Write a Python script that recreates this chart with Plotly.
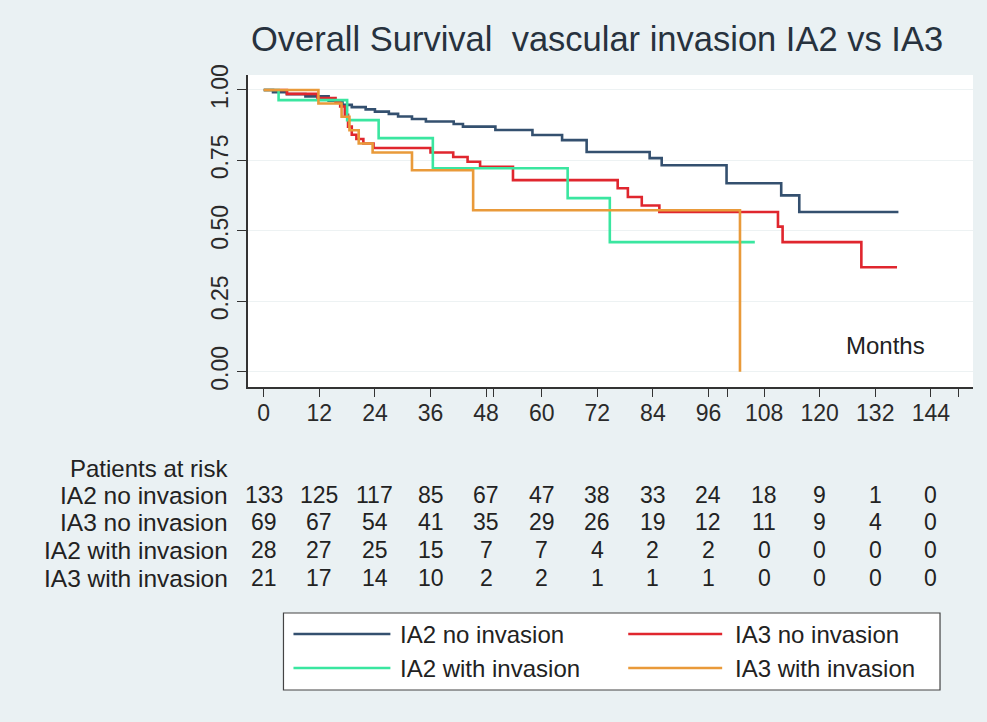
import plotly.graph_objects as go

# Kaplan-Meier step estimates (months, survival probability)
ia2_no_t = [0, 2, 5, 9, 14, 17, 19, 22, 24, 27, 29, 32, 35, 41, 43, 50, 58, 64.4, 69.7, 83.3, 85.9, 99.9, 111.7, 115.6, 137]
ia2_no_s = [1.0, 0.992, 0.985, 0.977, 0.962, 0.947, 0.939, 0.931, 0.923, 0.915, 0.906, 0.897, 0.888, 0.879, 0.870, 0.858, 0.840, 0.822, 0.780, 0.758, 0.733, 0.669, 0.626, 0.567, 0.567]

ia3_no_t = [0, 5, 11.6, 15.5, 16.5, 17.5, 18.2, 19, 20, 21.5, 23.7, 36, 40.9, 44, 46.7, 53.8, 76.4, 78.6, 81.6, 85.4, 111, 112, 129, 136.7]
ia3_no_s = [1.0, 0.986, 0.971, 0.956, 0.941, 0.912, 0.870, 0.841, 0.826, 0.810, 0.794, 0.778, 0.762, 0.745, 0.727, 0.680, 0.651, 0.620, 0.590, 0.567, 0.515, 0.460, 0.371, 0.371]

ia2_with_t = [0, 3.2, 18, 24.8, 36.5, 65.6, 74.7, 106]
ia2_with_s = [1.0, 0.964, 0.893, 0.829, 0.722, 0.616, 0.460, 0.460]

ia3_with_t = [0, 11.8, 16.8, 18.5, 20.5, 23.5, 32, 45.2, 102.8]
ia3_with_s = [1.0, 0.952, 0.905, 0.857, 0.810, 0.778, 0.715, 0.573, 0.0]

# Numbers at risk
risk_months = [0, 12, 24, 36, 48, 60, 72, 84, 96, 108, 120, 132, 144]
risk_ia2_no = [133, 125, 117, 85, 67, 47, 38, 33, 24, 18, 9, 1, 0]
risk_ia3_no = [69, 67, 54, 41, 35, 29, 26, 19, 12, 11, 9, 4, 0]
risk_ia2_with = [28, 27, 25, 15, 7, 7, 4, 2, 2, 0, 0, 0, 0]
risk_ia3_with = [21, 17, 14, 10, 2, 2, 1, 1, 1, 0, 0, 0, 0]

group_names = ["IA2 no invasion", "IA3 no invasion", "IA2 with invasion", "IA3 with invasion"]
group_colors = ["#34506f", "#e0262e", "#3ae6a0", "#e99a3a"]

extra_ticks = [49.6, 100, 150]
y_ticks = [0, 0.25, 0.5, 0.75, 1.0]

W, H = 987, 722
L, R, T, B = 247.5, 973, 75, 387
BG = "#eaf1f3"
FONT = "Liberation Sans, Arial, sans-serif"


def px(xp):
    return (xp - L) / (R - L)


def py(yp):
    return (B - yp) / (B - T)


curves = [
    (ia2_no_t, ia2_no_s),
    (ia3_no_t, ia3_no_s),
    (ia2_with_t, ia2_with_s),
    (ia3_with_t, ia3_with_s),
]

fig = go.Figure()
for (t, s), name, col in zip(curves, group_names, group_colors):
    fig.add_trace(go.Scatter(
        x=t, y=s, mode="lines", name=name,
        line=dict(color=col, width=2.6, shape="hv"),
        showlegend=False,
    ))

xt_vals = risk_months + extra_ticks
xt_text = [str(m) for m in risk_months] + [""] * len(extra_ticks)

fig.update_layout(
    width=W, height=H,
    margin=dict(l=L, r=W - R, t=T, b=H - B, pad=0),
    paper_bgcolor=BG,
    plot_bgcolor="white",
    font=dict(family=FONT, color="#222222"),
    title=dict(
        text="Overall Survival&nbsp;&nbsp;vascular invasion IA2 vs IA3",
        font=dict(size=34.5, color="#27323e", family=FONT),
        xref="container", x=597 / W, xanchor="center",
        yref="container", y=1 - 39 / H, yanchor="middle",
    ),
    xaxis=dict(
        range=[-3.4, 153.1],
        tickmode="array", tickvals=xt_vals, ticktext=xt_text,
        ticks="outside", ticklen=8, tickwidth=1.3, tickcolor="#333333",
        showline=True, linecolor="#333333", linewidth=1.5,
        showgrid=False, zeroline=False,
        ticklabelstandoff=-3,
        tickfont=dict(size=23, color="#2a2a2a"),
    ),
    yaxis=dict(
        range=[-0.054, 1.053],
        tickmode="array", tickvals=y_ticks, ticktext=[f"{v:.2f}" for v in y_ticks],
        tickangle=-90,
        ticks="outside", ticklen=9, tickwidth=1.3, tickcolor="#333333",
        showline=True, linecolor="#333333", linewidth=1.5,
        showgrid=True, gridcolor="#edf2f3", gridwidth=1,
        zeroline=False,
        tickfont=dict(size=23, color="#2a2a2a"),
    ),
)

# "Months" label inside the plot
fig.add_annotation(x=134.3, y=0.095, xref="x", yref="y", text="Months",
                   showarrow=False, yanchor="middle",
                   font=dict(size=24, color="#222222"))

# Numbers-at-risk table
fig.add_annotation(x=px(229), y=py(468), xref="paper", yref="paper",
                   text="Patients at risk", showarrow=False,
                   xanchor="right", yanchor="middle",
                   font=dict(size=24, color="#222222"))
row_y = [495, 522, 550, 578]
risk_rows = [risk_ia2_no, risk_ia3_no, risk_ia2_with, risk_ia3_with]
for name, counts, yy in zip(group_names, risk_rows, row_y):
    fig.add_annotation(x=px(229), y=py(yy), xref="paper", yref="paper",
                       text=name, showarrow=False,
                       xanchor="right", yanchor="middle",
                       font=dict(size=24.5, color="#222222"))
    for m, c in zip(risk_months, counts):
        fig.add_annotation(x=m, y=py(yy), xref="x", yref="paper",
                           text=str(c), showarrow=False,
                           xanchor="center", yanchor="middle",
                           font=dict(size=23, color="#222222"))

# Legend box drawn below the table
fig.add_shape(type="rect", xref="paper", yref="paper",
              x0=px(283), x1=px(940), y0=py(690), y1=py(613),
              line=dict(color="#444444", width=1.2), fillcolor="white", layer="below")
legend_slots = [(293, 390, 398, 634), (628, 722, 733, 634),
                (293, 390, 398, 668), (628, 722, 733, 668)]
for (lx0, lx1, tx, ly), name, col in zip(legend_slots, group_names, group_colors):
    fig.add_shape(type="line", xref="paper", yref="paper",
                  x0=px(lx0), x1=px(lx1), y0=py(ly), y1=py(ly),
                  line=dict(color=col, width=2.6))
    fig.add_annotation(x=px(tx), y=py(ly), xref="paper", yref="paper",
                       text=name, showarrow=False,
                       xanchor="left", yanchor="middle",
                       font=dict(size=24, color="#222222"))

fig.write_html("out.html")
